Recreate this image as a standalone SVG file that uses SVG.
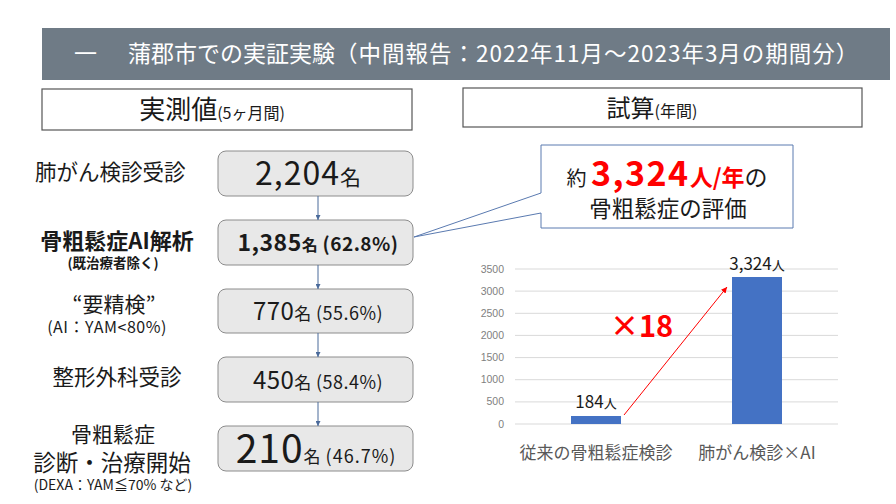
<svg xmlns="http://www.w3.org/2000/svg" width="896" height="504" viewBox="0 0 896 504">
<defs>
<style>
text{font-family:"Noto Sans CJK JP","Noto Sans",sans-serif;fill:#1a1a1a}
.title{fill:#ffffff}
.hbox{fill:#ffffff;stroke:#555555;stroke-width:1.2}
.fbox{fill:#e8e8e8;stroke:#8c8c8c;stroke-width:1}
.conn{stroke:#4a6a9a;stroke-width:1;fill:none}
.grid{stroke:#d9d9d9;stroke-width:1}
.ax{fill:#7f7f7f;font-size:10.5px;font-family:"Liberation Sans",Arial,sans-serif}
.bar{fill:#4472c4}
.red{fill:#ff0000}
.cat{fill:#595959;font-size:17px}
</style>
<marker id="ah" viewBox="0 0 6 6" refX="6" refY="3" markerWidth="5" markerHeight="5" orient="auto"><path d="M0,0 L6,3 L0,6 z" fill="#4a6a9a"/></marker>
<marker id="ahr" viewBox="0 0 8 8" refX="8" refY="4" markerWidth="6" markerHeight="6" orient="auto"><path d="M0,0 L8,4 L0,8 z" fill="#ff0000"/></marker>
</defs>
<rect width="896" height="504" fill="#ffffff"/>

<g id="header">
<rect x="42" y="28" width="848" height="52" fill="#6f7b86"/>
<text x="74" y="62" class="title" font-size="23">一</text>
<text x="128" y="62" class="title" font-size="23">蒲郡市での実証実験<tspan font-size="22.5" letter-spacing="1">（中間報告：2022年11月～2023年3月の期間分）</tspan></text>
</g>

<g id="left-title">
<rect x="42" y="89" width="370" height="41" class="hbox"/>
<text x="212" y="119" text-anchor="middle" font-size="26">実測値<tspan font-size="16">(5ヶ月間)</tspan></text>
</g>
<g id="right-title">
<rect x="463" y="88" width="399" height="39" class="hbox"/>
<text x="652" y="117" text-anchor="middle" font-size="24">試算<tspan font-size="16">(年間)</tspan></text>
</g>

<g id="label1"><text x="35" y="180" font-size="21.5">肺がん検診受診</text></g>
<g id="label2">
<text x="117" y="249" text-anchor="middle" font-size="22" font-weight="bold">骨粗鬆症AI解析</text>
<text x="113" y="268" text-anchor="middle" font-size="13.5" font-weight="bold">(既治療者除く)</text>
</g>
<g id="label3">
<text x="114" y="312" text-anchor="middle" font-size="21">“要精検”</text>
<text x="107" y="333" text-anchor="middle" font-size="16" letter-spacing="0.5">(AI：YAM&lt;80%)</text>
</g>
<g id="label4"><text x="117" y="385" text-anchor="middle" font-size="21.5">整形外科受診</text></g>
<g id="label5">
<text x="113" y="442" text-anchor="middle" font-size="21">骨粗鬆症</text>
<text x="112" y="471" text-anchor="middle" font-size="22.5">診断・治療開始</text>
<text x="113" y="490" text-anchor="middle" font-size="14">(DEXA：YAM≦70% など)</text>
</g>

<g id="box1">
<rect x="218" y="151" width="195" height="45" rx="8" class="fbox"/>
<text x="308" y="185" text-anchor="middle" font-size="32" letter-spacing="1">2,204<tspan font-size="21" letter-spacing="0">名</tspan></text>
</g>
<g id="box2">
<rect x="218" y="220" width="195" height="45" rx="8" class="fbox"/>
<text x="318" y="251" text-anchor="middle" font-size="23" font-weight="bold" letter-spacing="0.5">1,385<tspan font-size="16" letter-spacing="0">名</tspan><tspan font-size="19"> (62.8%)</tspan></text>
</g>
<g id="box3">
<rect x="218" y="289" width="195" height="44" rx="8" class="fbox"/>
<text x="318" y="320" text-anchor="middle" font-size="24" letter-spacing="0.5">770<tspan font-size="17" letter-spacing="0">名</tspan><tspan font-size="18"> (55.6%)</tspan></text>
</g>
<g id="box4">
<rect x="218" y="357" width="195" height="45" rx="8" class="fbox"/>
<text x="318" y="389" text-anchor="middle" font-size="24" letter-spacing="0.5">450<tspan font-size="17" letter-spacing="0">名</tspan><tspan font-size="18"> (58.4%)</tspan></text>
</g>
<g id="box5">
<rect x="218" y="426" width="195" height="45" rx="8" class="fbox"/>
<text x="316" y="463" text-anchor="middle" font-size="39" letter-spacing="1">210<tspan font-size="17" letter-spacing="0">名</tspan><tspan font-size="18"> (46.7%)</tspan></text>
</g>

<g id="connectors">
<line x1="318" y1="196" x2="318" y2="220" class="conn" marker-end="url(#ah)"/>
<line x1="318" y1="265" x2="318" y2="289" class="conn" marker-end="url(#ah)"/>
<line x1="318" y1="333" x2="318" y2="357" class="conn" marker-end="url(#ah)"/>
<line x1="318" y1="402" x2="318" y2="426" class="conn" marker-end="url(#ah)"/>
</g>

<g id="callout">
<path d="M541,145 L793,145 L793,228 L541,228 L541,213 L414,237 L541,193 Z" fill="#ffffff" stroke="#5a7ab0" stroke-width="1"/>
<text x="667" y="186" text-anchor="middle" font-size="20">約 <tspan class="red" font-size="34" font-weight="bold" letter-spacing="1.5">3,324</tspan><tspan class="red" font-size="23" font-weight="bold">人/年</tspan><tspan font-size="23">の</tspan></text>
<text x="668" y="217" text-anchor="middle" font-size="22.5">骨粗鬆症の評価</text>
</g>

<g id="chart">
<line x1="515" y1="269" x2="838" y2="269" class="grid"/>
<line x1="515" y1="291.1" x2="838" y2="291.1" class="grid"/>
<line x1="515" y1="313.3" x2="838" y2="313.3" class="grid"/>
<line x1="515" y1="335.4" x2="838" y2="335.4" class="grid"/>
<line x1="515" y1="357.6" x2="838" y2="357.6" class="grid"/>
<line x1="515" y1="379.7" x2="838" y2="379.7" class="grid"/>
<line x1="515" y1="401.9" x2="838" y2="401.9" class="grid"/>
<line x1="515" y1="424" x2="838" y2="424" class="grid"/>
<text x="504" y="273" text-anchor="end" class="ax">3500</text>
<text x="504" y="295" text-anchor="end" class="ax">3000</text>
<text x="504" y="317" text-anchor="end" class="ax">2500</text>
<text x="504" y="339" text-anchor="end" class="ax">2000</text>
<text x="504" y="361" text-anchor="end" class="ax">1500</text>
<text x="504" y="383" text-anchor="end" class="ax">1000</text>
<text x="504" y="405" text-anchor="end" class="ax">500</text>
<text x="504" y="428" text-anchor="end" class="ax">0</text>
<rect x="571" y="416" width="50" height="8" class="bar"/>
<rect x="732" y="277" width="50" height="147" class="bar"/>
<text x="596" y="408" text-anchor="middle" font-size="17">184<tspan font-size="13">人</tspan></text>
<text x="757" y="270" text-anchor="middle" font-size="17">3,324<tspan font-size="13">人</tspan></text>
<line x1="624" y1="415" x2="727" y2="287" stroke="#ff0000" stroke-width="1" marker-end="url(#ahr)"/>
<text x="610" y="337" class="red" font-size="29" font-weight="bold">×18</text>
<text x="596" y="459" text-anchor="middle" class="cat">従来の骨粗鬆症検診</text>
<text x="757" y="459" text-anchor="middle" class="cat">肺がん検診×AI</text>
</g>
</svg>
